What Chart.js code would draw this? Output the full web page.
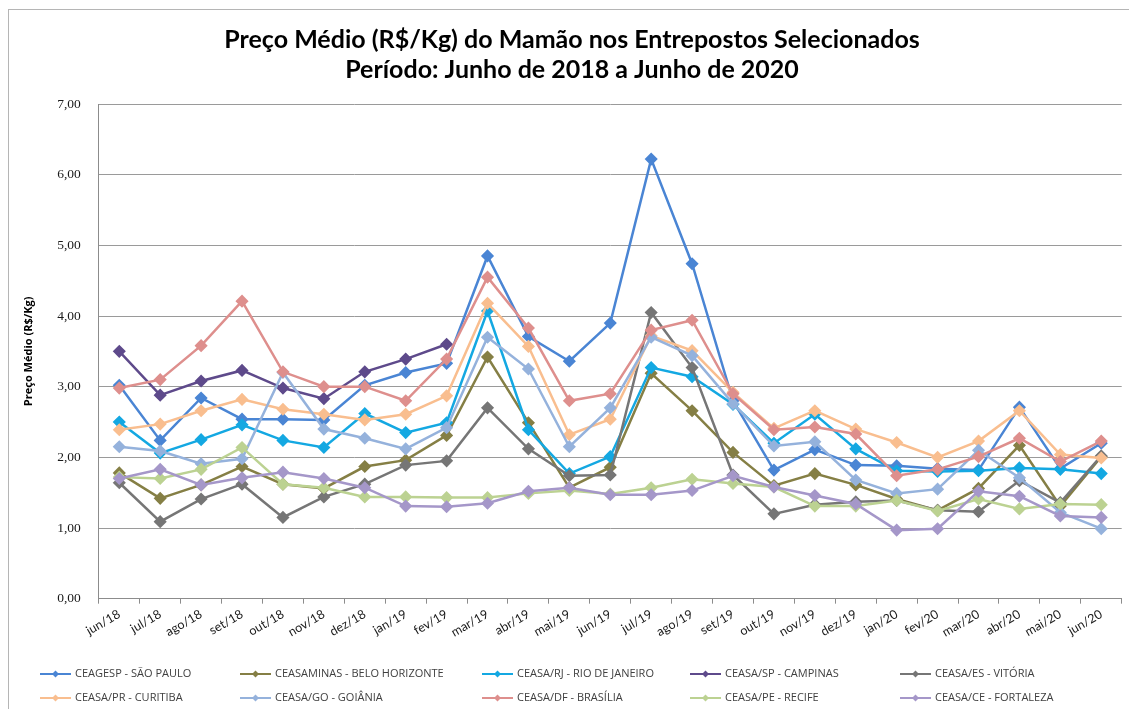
<!DOCTYPE html>
<html>
<head>
<meta charset="utf-8">
<script src="https://cdn.jsdelivr.net/npm/chart.js@4.4.1/dist/chart.umd.min.js"></script>
<style>
  html, body { margin: 0; padding: 0; background: #fff; overflow: hidden; }
  #frame { position: absolute; left: 8px; top: 9px; width: 2000px; height: 2000px; border: 1px solid #b5b5b5; }
  #precos { position: absolute; left: 0; top: 0; }
</style>
</head>
<body>
<div id="frame"></div>
<canvas id="precos" width="1129" height="709"></canvas>
<script>
var meses = ["jun/18", "jul/18", "ago/18", "set/18", "out/18", "nov/18", "dez/18", "jan/19", "fev/19",
    "mar/19", "abr/19", "mai/19", "jun/19", "jul/19", "ago/19", "set/19", "out/19", "nov/19", "dez/19",
    "jan/20", "fev/20", "mar/20", "abr/20", "mai/20", "jun/20"];

var saoPaulo = [3.02, 2.24, 2.84, 2.54, 2.54, 2.53, 3.02, 3.20, 3.33, 4.85, 3.71, 3.36, 3.90, 6.22, 4.74, 2.80, 1.82, 2.11, 1.89, 1.88, 1.84, 1.82, 2.71, 1.84, 2.20];
var beloHorizonte = [1.78, 1.42, 1.61, 1.87, 1.62, 1.56, 1.87, 1.96, 2.31, 3.42, 2.49, 1.57, 1.86, 3.19, 2.66, 2.07, 1.60, 1.77, 1.61, 1.41, 1.25, 1.56, 2.17, 1.31, 2.01];
var rioDeJaneiro = [2.50, 2.06, 2.25, 2.46, 2.24, 2.14, 2.62, 2.35, 2.49, 4.07, 2.39, 1.77, 2.01, 3.27, 3.14, 2.75, 2.20, 2.61, 2.12, 1.81, 1.80, 1.81, 1.85, 1.83, 1.77];
var campinas = [3.50, 2.88, 3.08, 3.23, 2.98, 2.83, 3.21, 3.39, 3.60, null, null, null, null, null, null, null, null, null, null, null, null, null, null, null, null];
var vitoria = [1.64, 1.09, 1.41, 1.62, 1.15, 1.44, 1.62, 1.89, 1.95, 2.70, 2.12, 1.74, 1.75, 4.05, 3.27, 1.75, 1.20, 1.33, 1.37, 1.39, 1.25, 1.23, 1.67, 1.36, 2.02];
var curitiba = [2.39, 2.47, 2.66, 2.82, 2.68, 2.61, 2.53, 2.61, 2.87, 4.18, 3.57, 2.32, 2.54, 3.72, 3.51, 2.92, 2.41, 2.66, 2.40, 2.21, 2.00, 2.23, 2.66, 2.04, 1.99];
var goiania = [2.15, 2.09, 1.91, 1.98, 3.20, 2.40, 2.27, 2.12, 2.42, 3.70, 3.25, 2.15, 2.70, 3.70, 3.44, 2.76, 2.16, 2.22, 1.68, 1.49, 1.55, 2.10, 1.71, 1.22, 0.99];
var brasilia = [2.98, 3.10, 3.58, 4.21, 3.21, 3.00, 3.00, 2.80, 3.39, 4.55, 3.83, 2.80, 2.90, 3.80, 3.94, 2.90, 2.39, 2.43, 2.33, 1.74, 1.83, 2.01, 2.27, 1.94, 2.23];
var recife = [1.72, 1.70, 1.83, 2.14, 1.62, 1.57, 1.44, 1.44, 1.43, 1.43, 1.49, 1.53, 1.48, 1.57, 1.69, 1.63, 1.58, 1.31, 1.31, 1.39, 1.24, 1.41, 1.27, 1.34, 1.33];
var fortaleza = [1.70, 1.83, 1.61, 1.71, 1.79, 1.70, 1.57, 1.31, 1.30, 1.35, 1.52, 1.57, 1.47, 1.47, 1.53, 1.74, 1.58, 1.46, 1.34, 0.97, 0.99, 1.52, 1.45, 1.17, 1.15];

function serie(nome, valores, cor) {
    return {
        label: nome,
        data: valores,
        borderColor: cor,
        backgroundColor: cor,
        pointBackgroundColor: cor,
        pointBorderColor: cor,
        borderWidth: 2.5,
        pointStyle: 'rectRot',
        pointRadius: 4.8,
        lineTension: 0,
        fill: false,
        spanGaps: false
    };
}

var series = [
    serie("CEAGESP - SÃO PAULO", saoPaulo, '#4a85d4'),
    serie("CEASAMINAS - BELO HORIZONTE", beloHorizonte, '#857f45'),
    serie("CEASA/RJ - RIO DE JANEIRO", rioDeJaneiro, '#14a8e2'),
    serie("CEASA/SP - CAMPINAS", campinas, '#5e4a8b'),
    serie("CEASA/ES - VITÓRIA", vitoria, '#767676'),
    serie("CEASA/PR - CURITIBA", curitiba, '#f9be8f'),
    serie("CEASA/GO - GOIÂNIA", goiania, '#95b2dc'),
    serie("CEASA/DF - BRASÍLIA", brasilia, '#de8f8d'),
    serie("CEASA/PE - RECIFE", recife, '#bcd292'),
    serie("CEASA/CE - FORTALEZA", fortaleza, '#a597c9')
];
// Excel draws the last series on top
series.forEach(function (s, i) { s.order = series.length - i; });

// legend in 5 fixed columns, 2 rows, like the Excel one
var colunasLegenda = [40, 240, 482, 690, 900];
var linhasLegenda = [674, 698];
var legendaGrade = {
    id: 'legendaGrade',
    afterDraw: function (chart) {
        var ctx = chart.ctx;
        ctx.save();
        chart.data.datasets.forEach(function (ds, i) {
            var x = colunasLegenda[i % 5];
            var y = linhasLegenda[Math.floor(i / 5)];
            ctx.strokeStyle = ds.borderColor;
            ctx.fillStyle = ds.borderColor;
            ctx.lineWidth = 2;
            ctx.beginPath();
            ctx.moveTo(x, y);
            ctx.lineTo(x + 31, y);
            ctx.stroke();
            ctx.beginPath();
            ctx.moveTo(x + 15.5, y - 3.5);
            ctx.lineTo(x + 19, y);
            ctx.lineTo(x + 15.5, y + 3.5);
            ctx.lineTo(x + 12, y);
            ctx.closePath();
            ctx.fill();
            ctx.fillStyle = '#404040';
            ctx.font = '11px "Liberation Sans Narrow", "Open Sans"';
            ctx.textBaseline = 'middle';
            ctx.fillText(ds.label, x + 35, y);
        });
        ctx.restore();
    }
};

var graficoPrecos = new Chart(document.getElementById("precos"), {
    type: 'line',
    data: {
        labels: meses,
        datasets: series
    },
    options: {
        responsive: false,
        animation: false,
        devicePixelRatio: 1,
        layout: {
            padding: { left: 22, right: 7, top: 0, bottom: 66 }
        },
        plugins: {
            legend: { display: false },
            tooltip: { enabled: false },
            title: {
                display: true,
                text: ["Preço Médio (R$/Kg) do Mamão nos Entrepostos Selecionados",
                    "Período: Junho de 2018 a Junho de 2020"],
                color: '#000',
                font: { family: 'Lato', size: 25, weight: 'bold', lineHeight: 1.2 },
                padding: { top: 25, bottom: 19 }
            }
        },
        scales: {
            x: {
                offset: true,
                grid: { drawOnChartArea: false, offset: true, tickLength: 5, color: '#8c8c8c' },
                border: { color: '#8c8c8c' },
                ticks: {
                    autoSkip: false,
                    minRotation: 30,
                    maxRotation: 30,
                    color: '#1a1a1a',
                    font: { family: 'Lato', size: 12.5 }
                }
            },
            y: {
                min: 0,
                max: 7,
                grid: { color: '#9a9a9a', drawTicks: false },
                border: { color: '#8c8c8c' },
                ticks: {
                    stepSize: 1,
                    padding: 18,
                    color: '#1a1a1a',
                    font: { family: 'Liberation Serif', size: 13.5 },
                    callback: function (v) { return v.toFixed(2).replace('.', ','); }
                },
                title: {
                    display: true,
                    text: 'Preço Médio (R$/Kg)',
                    color: '#000',
                    font: { family: 'Open Sans', size: 11, weight: 'bold' },
                    padding: { top: 0, bottom: 4 }
                }
            }
        }
    },
    plugins: [legendaGrade]
});
</script>
</body>
</html>
